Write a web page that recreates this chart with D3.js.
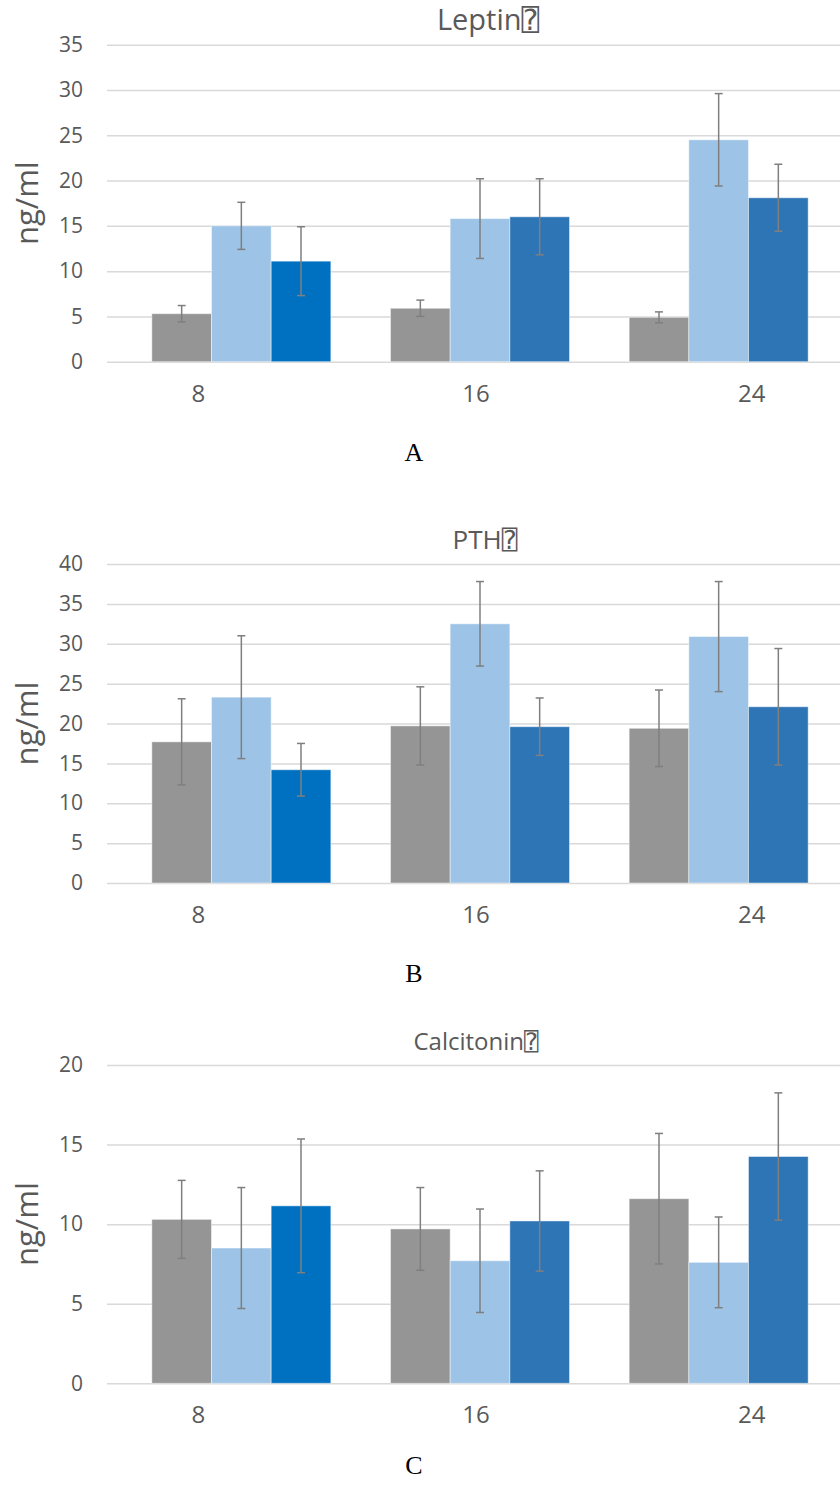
<!DOCTYPE html>
<html lang="en">
<head>
<meta charset="UTF-8" />
<title>Leptin, PTH, Calcitonin</title>
<script src="https://d3js.org/d3.v7.min.js"></script>
<style>
  body { margin: 0; padding: 0; background: #fff; }
  svg { display: block; }
  .tick line { stroke: #d9d9d9; stroke-width: 1.5; }
  .tick text { fill: #595959; font-family: "Open Sans", sans-serif; font-size: 21px; }
</style>
</head>
<body>
<svg width="840" height="1488"></svg>
<script>
  // weeks on the x axis
  const categories = ["8", "16", "24"];
  const seriesNames = ["Series 1", "Series 2", "Series 3"];

  // rows = series, columns = categories
  const leptinValues = [[5.3, 5.9, 4.9], [15.0, 15.8, 24.5], [11.1, 16.0, 18.1]];
  const leptinErrors = [[0.9, 0.9, 0.6], [2.6, 4.4, 5.1], [3.8, 4.2, 3.7]];

  const pthValues = [[17.7, 19.7, 19.4], [23.3, 32.5, 30.9], [14.2, 19.6, 22.1]];
  const pthErrors = [[5.4, 4.9, 4.8], [7.7, 5.3, 6.9], [3.3, 3.6, 7.3]];

  const calcitoninValues = [[10.3, 9.7, 11.6], [8.5, 7.7, 7.6], [11.15, 10.2, 14.25]];
  const calcitoninErrors = [[2.45, 2.6, 4.1], [3.8, 3.25, 2.85], [4.2, 3.15, 4.0]];

  const yMax = [35, 40, 20];
  const titles = ["Leptin\u2370", "PTH\u2370", "Calcitonin\u2370"];
  const letters = ["A", "B", "C"];

  // styling
  const barColors = [
    ["#959595", "#959595", "#959595"],
    ["#9dc3e6", "#9dc3e6", "#9dc3e6"],
    ["#0070c0", "#2e75b6", "#2e75b6"]
  ];
  const labelShift = [-43, -4, 33];
  const titleX = [488, 485, 476];
  const titleSize = [29, 26, 24];
  const letterGap = [99, 99, 91];

  const panels = [
    { values: leptinValues, errors: leptinErrors, top: 44.7, bottom: 361.7 },
    { values: pthValues, errors: pthErrors, top: 564, bottom: 883 },
    { values: calcitoninValues, errors: calcitoninErrors, top: 1065, bottom: 1383.3 }
  ];

  const svg = d3.select("svg");
  const gridLeft = 107, gridRight = 840;

  const x0 = d3.scaleBand().domain(categories).range([122, 838]).padding(0);
  const x1 = d3.scaleBand().domain(seriesNames).range([0, x0.bandwidth()])
    .paddingInner(0).paddingOuter(0.5);

  panels.forEach((p, pi) => {
    const y = d3.scaleLinear().domain([0, yMax[pi]]).range([p.bottom, p.top]);
    const g = svg.append("g");

    // gridlines + tick labels
    g.append("g")
      .attr("transform", `translate(${gridLeft},0)`)
      .call(d3.axisLeft(y).ticks(yMax[pi] / 5).tickSize(-(gridRight - gridLeft)).tickPadding(24))
      .call(a => a.select(".domain").remove());

    // bars
    seriesNames.forEach((s, si) => {
      categories.forEach((c, ci) => {
        const v = p.values[si][ci];
        const e = p.errors[si][ci];
        const bx = x0(c) + x1(s);
        const cx = bx + x1.bandwidth() / 2;

        g.append("rect")
          .attr("x", bx)
          .attr("y", y(v))
          .attr("width", x1.bandwidth())
          .attr("height", y(0) - y(v))
          .attr("fill", barColors[si][ci])
          .attr("stroke", "rgba(255,255,255,0.45)")
          .attr("stroke-width", 1);

        const eg = g.append("g")
          .attr("stroke", "#7f7f7f")
          .attr("stroke-width", 1.5);
        eg.append("line").attr("x1", cx).attr("x2", cx).attr("y1", y(v + e)).attr("y2", y(v - e));
        eg.append("line").attr("x1", cx - 4).attr("x2", cx + 4).attr("y1", y(v + e)).attr("y2", y(v + e));
        eg.append("line").attr("x1", cx - 4).attr("x2", cx + 4).attr("y1", y(v - e)).attr("y2", y(v - e));
      });
    });

    // category labels
    categories.forEach((c, ci) => {
      g.append("text")
        .attr("x", x0(c) + x0.bandwidth() / 2 + labelShift[ci])
        .attr("y", y(0) + 40)
        .attr("text-anchor", "middle")
        .attr("fill", "#595959")
        .attr("font-family", "Open Sans, sans-serif")
        .attr("font-size", 24)
        .text(c);
    });

    // title
    g.append("text")
      .attr("x", titleX[pi])
      .attr("y", p.top - 15)
      .attr("text-anchor", "middle")
      .attr("fill", "#595959")
      .attr("font-family", "Open Sans, DejaVu Sans Mono, sans-serif")
      .attr("font-size", titleSize[pi])
      .text(titles[pi]);

    // y-axis title
    g.append("text")
      .attr("transform", `translate(38,${(p.top + p.bottom) / 2}) rotate(-90)`)
      .attr("text-anchor", "middle")
      .attr("fill", "#595959")
      .attr("font-family", "Open Sans, sans-serif")
      .attr("font-size", 31)
      .text("ng/ml");

    // panel letter
    g.append("text")
      .attr("x", 414)
      .attr("y", p.bottom + letterGap[pi])
      .attr("text-anchor", "middle")
      .attr("fill", "#000")
      .attr("font-family", "Liberation Serif, serif")
      .attr("font-size", 26)
      .text(letters[pi]);
  });
</script>
</body>
</html>
